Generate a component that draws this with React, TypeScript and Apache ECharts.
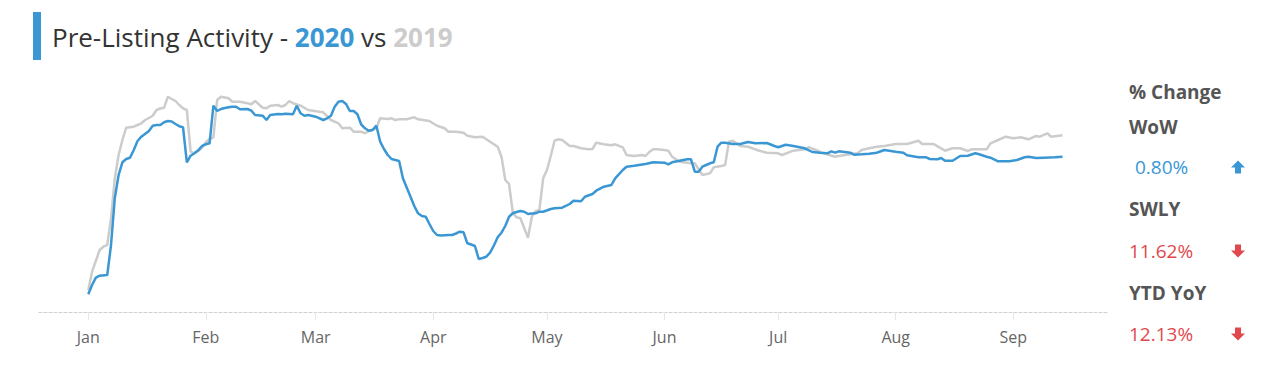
import React, { useEffect, useRef } from "react";
import * as echarts from "echarts";

// Axis range, in days counted from 1 Jan 2020
const firstDay = -13;
const lastDay = 269;
const monthLabels = ["Jan", "Feb", "Mar", "Apr", "May", "Jun", "Jul", "Aug", "Sep", "Oct", "Nov", "Dec"];

// 2020 series (day offset from Jan 1, activity index)
const days2020 = [0, 1, 2, 3, 5, 6, 7, 8, 9, 10, 11, 12, 13, 14, 16, 17, 18, 19, 20, 21, 22, 23, 24, 25, 26, 27, 28, 29, 30, 31, 32, 33, 34, 35, 36, 37, 38, 39, 40, 42, 43, 44, 46, 47, 48, 50, 51, 52, 54, 55, 56, 57, 58, 60, 62, 63, 64, 65, 66, 67, 68, 69, 70, 71, 72, 73, 74, 75, 76, 77, 78, 79, 80, 81, 82, 83, 85, 86, 87, 88, 89, 90, 91, 92, 93, 95, 96, 97, 98, 99, 100, 101, 102, 103, 104, 105, 106, 107, 108, 109, 110, 111, 112, 113, 114, 115, 116, 117, 118, 119, 120, 122, 123, 125, 127, 128, 130, 131, 133, 134, 136, 138, 139, 141, 142, 144, 147, 149, 152, 153, 154, 155, 158, 159, 160, 161, 162, 163, 164, 165, 166, 167, 168, 170, 172, 174, 176, 179, 181, 182, 184, 186, 187, 189, 191, 193, 195, 196, 197, 198, 201, 202, 204, 206, 208, 210, 213, 215, 216, 219, 221, 222, 224, 225, 226, 228, 230, 232, 234, 235, 237, 238, 240, 243, 245, 247, 248, 250, 252, 255, 257];
const values2020 = [17.7, 27, 34.3, 36.3, 37, 67, 114, 137, 149.7, 153, 154.3, 162, 171, 175.3, 181, 186.3, 187, 187, 189.7, 191, 190.5, 188, 185.8, 184.7, 149.7, 156.3, 158.7, 161.7, 166, 167.7, 168.7, 206.3, 201, 203, 204, 204.7, 205.3, 205.3, 202.7, 203, 201.3, 197, 196.3, 192, 197, 198, 197.7, 198.3, 197.7, 206.3, 198.7, 196.3, 197, 195.3, 192, 193.7, 196.3, 205.3, 210.3, 211, 208, 201, 201, 197.7, 187.5, 183.7, 181.3, 182, 186.3, 170.3, 163, 157, 153, 152, 151, 133.7, 115.3, 106, 98.7, 96, 95.3, 88, 81, 77, 76.5, 77, 77, 78.5, 80.3, 79.7, 68.7, 67.5, 66, 53, 54, 55.3, 59.3, 66.5, 74.7, 79.3, 86, 95.3, 98.7, 100, 101, 100.3, 98, 98.5, 98.7, 100.3, 100.3, 103, 103.7, 104.3, 108, 111.3, 110.7, 115.3, 118, 121.3, 125.3, 127, 133.7, 142, 145.3, 146.3, 148, 149.7, 149.3, 147.7, 149.7, 150.5, 152.7, 152.7, 140.3, 140.3, 145.3, 147, 148.7, 149.7, 165.3, 169.3, 169.3, 168, 168, 170, 168.7, 169, 166, 164.7, 167.3, 166, 165.3, 163.7, 160, 159.3, 158.7, 160.7, 159.3, 160.7, 159.3, 157.3, 157.7, 158.3, 159.3, 162, 160.3, 159.3, 156.7, 154.7, 154.7, 153, 152.7, 154, 151.3, 151.3, 156, 156.3, 158.7, 157.7, 155.3, 154.3, 150.7, 150.7, 152, 154.7, 155.3, 154, 154.3, 154.7, 155.3];

// 2019 series
const days2019 = [0, 1, 3, 4, 5, 6, 7, 8, 9, 10, 12, 13, 14, 15, 16, 17, 18, 19, 20, 21, 22, 23, 24, 25, 26, 27, 28, 29, 30, 31, 32, 33, 34, 35, 36, 37, 38, 40, 42, 43, 44, 46, 47, 48, 50, 51, 52, 53, 54, 56, 58, 61, 62, 64, 66, 67, 69, 70, 72, 73, 74, 76, 77, 79, 80, 81, 82, 84, 86, 87, 90, 92, 94, 95, 97, 99, 100, 102, 104, 106, 108, 109, 110, 111, 112, 113, 114, 116, 117, 118, 119, 120, 121, 122, 123, 124, 125, 127, 128, 130, 132, 133, 134, 136, 138, 139, 141, 142, 144, 146, 147, 148, 149, 150, 152, 153, 154, 156, 158, 159, 160, 162, 164, 165, 167, 168, 169, 170, 172, 174, 177, 179, 181, 182, 183, 186, 189, 190, 192, 194, 197, 198, 200, 203, 204, 206, 208, 210, 213, 216, 219, 220, 223, 226, 228, 230, 232, 233, 237, 238, 240, 242, 244, 246, 248, 250, 251, 253, 254, 257];
const values2019 = [22, 40.3, 62, 65.3, 67, 93.7, 133.7, 157, 172, 184.3, 185.3, 187, 188.7, 192, 194, 196.3, 202, 203.5, 204.3, 215.3, 213, 211, 207, 203.7, 202, 160.3, 158.7, 161, 164.3, 169.7, 173, 174.7, 212, 215.3, 214.5, 213.7, 210.3, 210.3, 208.7, 207.7, 211, 204.3, 203.7, 206.3, 207, 205.3, 207, 211, 208.7, 206.3, 202, 200.3, 199.7, 192, 188.7, 183.7, 184.3, 180.3, 180.3, 178.7, 181, 183.7, 193.7, 193, 193.7, 192, 192.7, 192.7, 194.7, 192.7, 191, 186.3, 183.7, 180.3, 180.3, 179.3, 176.3, 174.7, 175.3, 170.3, 165.3, 155.3, 132, 128, 99, 94.7, 93.7, 74.3, 95.3, 101, 102, 133.7, 142, 156, 171.3, 172.7, 172, 166, 166, 163.7, 162.7, 163, 169.3, 167.7, 166.7, 167.7, 164.7, 157, 156, 157, 156, 160, 162.7, 162.7, 162, 161.3, 155.3, 150.3, 149.3, 148.7, 148.7, 137, 138.7, 144.7, 146, 147, 170.3, 171.3, 166, 165.3, 161.3, 159.3, 159, 158.7, 157, 161.3, 162.7, 164.7, 162, 158.7, 155.3, 156, 157.3, 158.7, 162, 163.7, 165.3, 166, 168, 168, 171.3, 168, 168, 161.3, 163.7, 163.7, 161, 162.7, 162.7, 168.7, 172, 175.3, 173.7, 174.7, 172.7, 176, 175.3, 178.7, 175.3, 176.7];

// Side panel content
const panelHeader = "% Change";
const panelLabels = ["WoW", "SWLY", "YTD YoY"];
const panelValues = ["0.80%", "11.62%", "12.13%"];
const panelUp = [true, false, false];

const BLUE = "#3a97d4";
const RED = "#e0484d";
const GRAY = "#cccccc";
const FONT = "'Open Sans', 'Noto Sans', sans-serif";

function dayToDate(d: number): string {
  const t = Date.UTC(2020, 0, 1) + d * 86400000;
  return new Date(t).toISOString().slice(0, 10);
}

const categories: string[] = [];
for (let d = firstDay; d <= lastDay; d++) categories.push(dayToDate(d));

const isMonthStart = (_i: number, v: string) => String(v).slice(8, 10) === "01";

function arrow(cx: number, cy: number, up: boolean, color: string) {
  const s = up ? 1 : -1;
  const pts = [
    [cx, cy - 6.5 * s],
    [cx + 7, cy + 0.5 * s],
    [cx + 3, cy + 0.5 * s],
    [cx + 3, cy + 6.5 * s],
    [cx - 3, cy + 6.5 * s],
    [cx - 3, cy + 0.5 * s],
    [cx - 7, cy + 0.5 * s],
  ];
  return { type: "polygon", shape: { points: pts }, style: { fill: color } };
}

export default function App() {
  const ref = useRef<HTMLDivElement>(null);
  useEffect(() => {
    document.body.style.margin = "0";
    if (!ref.current) return;
    const chart = echarts.init(ref.current, null, { renderer: "svg" });

    const graphics: any[] = [
      { type: "rect", shape: { x: 33, y: 12, width: 8, height: 48 }, style: { fill: BLUE } },
      {
        type: "text",
        x: 52,
        y: 37,
        style: {
          text: "{a|Pre-Listing Activity - }{b|2020}{a| vs }{c|2019}",
          verticalAlign: "middle",
          rich: {
            a: { fontFamily: FONT, fontSize: 26, fill: "#333333" },
            b: { fontFamily: FONT, fontSize: 26, fontWeight: "bold", fill: BLUE },
            c: { fontFamily: FONT, fontSize: 26, fontWeight: "bold", fill: GRAY },
          },
        },
      },
      {
        type: "text",
        x: 1129,
        y: 92,
        style: { text: panelHeader, fontFamily: FONT, fontSize: 19, fontWeight: "bold", fill: "#555555", verticalAlign: "middle" },
      },
    ];
    const labelYs = [127, 209, 293];
    const valueYs = [167, 251, 334];
    panelLabels.forEach((lab, i) => {
      const color = panelUp[i] ? BLUE : RED;
      graphics.push({
        type: "text",
        x: 1129,
        y: labelYs[i],
        style: { text: lab, fontFamily: FONT, fontSize: 19, fontWeight: "bold", fill: "#555555", verticalAlign: "middle" },
      });
      graphics.push({
        type: "text",
        x: panelUp[i] ? 1135 : 1129,
        y: valueYs[i],
        style: { text: panelValues[i], fontFamily: FONT, fontSize: 19, fill: color, verticalAlign: "middle" },
      });
      graphics.push(arrow(1238, valueYs[i], panelUp[i], color));
    });

    chart.setOption({
      animation: false,
      grid: { left: 39, right: 180, top: 80, bottom: 66 },
      xAxis: {
        type: "category",
        data: categories,
        boundaryGap: false,
        axisLine: { show: true, lineStyle: { color: "#d0d0d0", type: [3, 2], width: 1 } },
        axisTick: { show: true, interval: isMonthStart, length: 8, lineStyle: { color: "#e6e6e6" } },
        axisLabel: {
          interval: isMonthStart,
          formatter: (v: string) => monthLabels[parseInt(v.slice(5, 7), 10) - 1],
          fontFamily: FONT,
          fontSize: 16,
          color: "#666666",
          margin: 17,
        },
        splitLine: { show: false },
      },
      yAxis: {
        type: "value",
        min: 0,
        max: 232,
        show: false,
        splitLine: { show: false },
      },
      series: [
        {
          name: "2019",
          type: "line",
          data: days2019.map((d, i) => [dayToDate(d), values2019[i]]),
          showSymbol: false,
          lineStyle: { color: GRAY, width: 2.5 },
          itemStyle: { color: GRAY },
        },
        {
          name: "2020",
          type: "line",
          data: days2020.map((d, i) => [dayToDate(d), values2020[i]]),
          showSymbol: false,
          lineStyle: { color: BLUE, width: 2.5 },
          itemStyle: { color: BLUE },
        },
      ],
      graphic: graphics,
    });
    return () => chart.dispose();
  }, []);
  return <div ref={ref} style={{ width: 1288, height: 378, overflow: "hidden" }} />;
}
